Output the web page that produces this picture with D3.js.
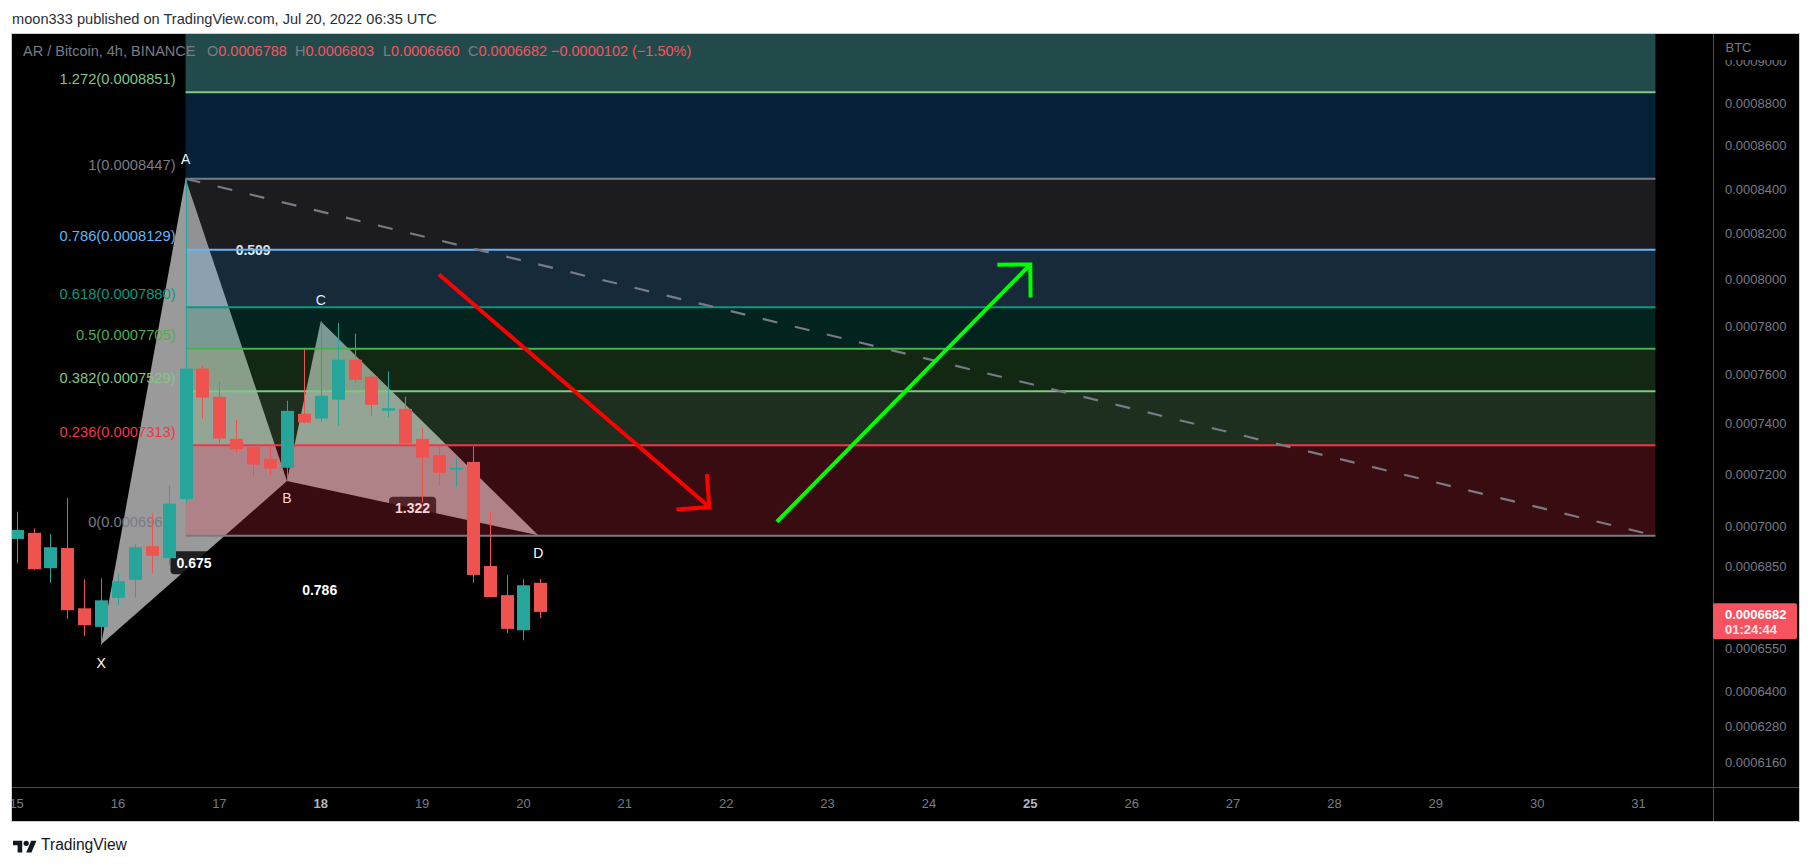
<!DOCTYPE html>
<html><head><meta charset="utf-8"><title>AR / Bitcoin 4h</title>
<script src="https://cdn.jsdelivr.net/npm/d3@7/dist/d3.min.js"></script>
<style>
html,body{margin:0;padding:0;background:#ffffff;overflow:hidden}
svg{display:block}
text{font-family:"Liberation Sans",Arial,Helvetica,sans-serif}
</style></head><body>
<svg id="c" width="1813" height="866"></svg>
<script>
// ---------------- DATA ----------------
const titleText = 'moon333 published on TradingView.com, Jul 20, 2022 06:35 UTC';
const symbolText = 'AR / Bitcoin, 4h, BINANCE';
const ohlcKeys = ['O', 'H', 'L', 'C'];
const ohlcVals = ['0.0006788', '0.0006803', '0.0006660', '0.0006682'];
const changeText = '\u22120.0000102 (\u22121.50%)';

const candleTimes = [
  '2022-07-15T00:00:00Z','2022-07-15T04:00:00Z','2022-07-15T08:00:00Z','2022-07-15T12:00:00Z','2022-07-15T16:00:00Z','2022-07-15T20:00:00Z',
  '2022-07-16T00:00:00Z','2022-07-16T04:00:00Z','2022-07-16T08:00:00Z','2022-07-16T12:00:00Z','2022-07-16T16:00:00Z','2022-07-16T20:00:00Z',
  '2022-07-17T00:00:00Z','2022-07-17T04:00:00Z','2022-07-17T08:00:00Z','2022-07-17T12:00:00Z','2022-07-17T16:00:00Z','2022-07-17T20:00:00Z',
  '2022-07-18T00:00:00Z','2022-07-18T04:00:00Z','2022-07-18T08:00:00Z','2022-07-18T12:00:00Z','2022-07-18T16:00:00Z','2022-07-18T20:00:00Z',
  '2022-07-19T00:00:00Z','2022-07-19T04:00:00Z','2022-07-19T08:00:00Z','2022-07-19T12:00:00Z','2022-07-19T16:00:00Z','2022-07-19T20:00:00Z',
  '2022-07-20T00:00:00Z','2022-07-20T04:00:00Z'];
const candleOpen  = [0.0006951,0.0006974,0.0006842,0.0006917,0.0006695,0.0006628,
                     0.0006733,0.0006799,0.0006924,0.0006879,0.0007103,0.0007622,
                     0.0007507,0.0007338,0.0007305,0.0007259,0.0007224,0.0007438,
                     0.0007419,0.0007495,0.0007659,0.0007589,0.0007451,0.0007458,
                     0.0007338,0.0007274,0.0007217,0.0007247,0.0006850,0.0006743,
                     0.0006616,0.0006788];
const candleHigh  = [0.0007054,0.0006991,0.0006969,0.0007107,0.0006801,0.0006805,
                     0.0006823,0.0006933,0.0007047,0.0007154,0.0008447,0.0007635,
                     0.0007569,0.0007414,0.0007314,0.0007306,0.0007491,0.0007703,
                     0.0007820,0.0007813,0.0007768,0.0007597,0.0007610,0.0007507,
                     0.0007383,0.0007305,0.0007264,0.0007307,0.0007054,0.0006816,
                     0.0006801,0.0006803];
const candleLow   = [0.0006860,0.0006835,0.0006788,0.0006657,0.0006596,0.0006565,
                     0.0006706,0.0006733,0.0006825,0.0006853,0.0007086,0.0007417,
                     0.0007321,0.0007281,0.0007189,0.0007196,0.0007172,0.0007400,
                     0.0007407,0.0007390,0.0007563,0.0007431,0.0007423,0.0007318,
                     0.0007089,0.0007154,0.0007150,0.0006788,0.0006735,0.0006606,
                     0.0006580,0.0006660];
const candleClose = [0.0006985,0.0006838,0.0006920,0.0006688,0.0006634,0.0006724,
                     0.0006794,0.0006920,0.0006888,0.0007085,0.0007622,0.0007504,
                     0.0007339,0.0007297,0.0007236,0.0007221,0.0007450,0.0007403,
                     0.0007511,0.0007659,0.0007576,0.0007474,0.0007461,0.0007319,
                     0.0007264,0.0007204,0.0007224,0.0006817,0.0006736,0.0006621,
                     0.0006779,0.0006682];

const fibLevels = ['0', '0.236', '0.382', '0.5', '0.618', '0.786', '1', '1.272'];
const fibPrices = [0.0006963, 0.0007313, 0.0007529, 0.0007705, 0.0007880, 0.0008129, 0.0008447, 0.0008851];
const fibTimes  = ['2022-07-16T16:00:00Z', '2022-07-31T04:00:00Z'];

const patternNames  = ['X', 'A', 'B', 'C', 'D'];
const patternTimes  = ['2022-07-15T20:00:00Z','2022-07-16T16:00:00Z','2022-07-17T16:00:00Z','2022-07-18T00:00:00Z','2022-07-20T03:30:00Z'];
const patternPrices = [0.0006565, 0.0008447, 0.0007172, 0.0007820, 0.0006965];
const ratioTexts = ['0.675', '0.509', '1.322', '0.786'];
const ratioPairs = [['X','B'], ['A','C'], ['B','D'], ['X','D']];

const trendTimes  = ['2022-07-16T16:00:00Z', '2022-07-31T04:00:00Z'];
const trendPrices = [0.0008447, 0.0006963];
const redArrowTimes    = ['2022-07-19T04:00:00Z', '2022-07-21T20:00:00Z'];
const redArrowPrices   = [0.0008020, 0.0007072];
const greenArrowTimes  = ['2022-07-22T12:00:00Z', '2022-07-25T00:00:00Z'];
const greenArrowPrices = [0.0007016, 0.0008064];

const priceTicks = [0.0009, 0.00088, 0.00086, 0.00084, 0.00082, 0.0008, 0.00078, 0.00076, 0.00074,
                    0.00072, 0.0007, 0.000685, 0.000655, 0.00064, 0.000628, 0.000616];
const dayTicks = ['2022-07-15','2022-07-16','2022-07-17','2022-07-18','2022-07-19','2022-07-20','2022-07-21','2022-07-22',
                  '2022-07-23','2022-07-24','2022-07-25','2022-07-26','2022-07-27','2022-07-28','2022-07-29','2022-07-30','2022-07-31'];
const dayLabels = ['15','16','17','18','19','20','21','22','23','24','25','26','27','28','29','30','31'];
const boldDays = ['18', '25'];
const lastPrice = 0.0006682;
const countdownText = '01:24:44';
const axisUnit = 'BTC';

// ---------------- SCALES ----------------
const svg = d3.select('#c');
const T = s => new Date(s);
const x = d3.scaleUtc().domain([T('2022-07-16T00:00:00Z'), T('2022-07-31T00:00:00Z')]).range([118, 1638.55]);
const y = d3.scaleLog().domain([0.0006078, 0.0009135]).range([787, 34]);
const P = (t, p) => [x(T(t)), y(p)];

const UP = '#26a69a', DOWN = '#ef5350';

// chart background
svg.append('rect').attr('x', 12).attr('y', 34).attr('width', 1787).attr('height', 787).attr('fill', '#000');
const defs = svg.append('defs');
defs.append('clipPath').attr('id', 'pc').append('rect').attr('x', 12).attr('y', 34).attr('width', 1701).attr('height', 753);
defs.append('clipPath').attr('id', 'tc').append('rect').attr('x', 12).attr('y', 788).attr('width', 1701).attr('height', 33);
defs.append('clipPath').attr('id', 'ac').append('rect').attr('x', 1714).attr('y', 60).attr('width', 85).attr('height', 727);
const g = svg.append('g').attr('clip-path', 'url(#pc)');

// ---------- XABCD pattern (under fib zones) ----------
const pIdx = n => patternNames.indexOf(n);
const pPt = n => P(patternTimes[pIdx(n)], patternPrices[pIdx(n)]);
const tris = [['X','A','B'], ['B','C','D']];
g.selectAll('path.tri').data(tris).join('path').attr('class', 'tri')
  .attr('d', d => 'M' + d.map(n => pPt(n).join(',')).join('L') + 'Z')
  .attr('fill', '#9a9a9a');

ratioTexts.forEach((txt, i) => {
  const a = pPt(ratioPairs[i][0]), b = pPt(ratioPairs[i][1]);
  const cx = (a[0] + b[0]) / 2, cy = (a[1] + b[1]) / 2;
  const lg = g.append('g');
  const r = lg.append('rect').attr('fill', 'rgba(0,0,0,0.8)').attr('rx', 4);
  const t = lg.append('text').attr('x', cx).attr('y', cy + 5).attr('text-anchor', 'middle')
    .attr('font-size', '14px').attr('font-weight', 'bold').attr('fill', '#ffffff').text(txt);
  const w = t.node().getComputedTextLength();
  r.attr('x', cx - w / 2 - 6).attr('y', cy - 11.5).attr('width', w + 12).attr('height', 23);
});

const labelOffset = { X: 18, A: -20, B: 17, C: -21, D: 18 };
patternNames.forEach(n => {
  const p = pPt(n);
  g.append('text').attr('x', p[0]).attr('y', p[1] + labelOffset[n] + 5).attr('text-anchor', 'middle')
    .attr('font-size', '14px').attr('fill', '#ffffff').text(n);
});

// ---------- Fib retracement ----------
const fx0 = x(T(fibTimes[0])), fx1 = x(T(fibTimes[1]));
const fibLineColors = ['#787b86', '#f23645', '#81c784', '#4caf50', '#089981', '#64b5f6', '#787b86', '#81c784'];
const fibZoneColors = [null, '#f23645', '#81c784', '#4caf50', '#089981', '#64b5f6', '#787b86', '#1a8fef'];
g.append('rect').attr('x', fx0).attr('width', fx1 - fx0).attr('y', 34).attr('height', y(fibPrices[7]) - 34).attr('fill', '#234a4b');
for (let i = 1; i < fibPrices.length; i++) {
  const y0 = y(fibPrices[i]), y1 = y(fibPrices[i - 1]);
  g.append('rect').attr('x', fx0).attr('width', fx1 - fx0).attr('y', y0).attr('height', y1 - y0)
    .attr('fill', fibZoneColors[i]).attr('fill-opacity', 0.23);
}
fibPrices.forEach((p, i) => {
  g.append('line').attr('x1', fx0).attr('x2', fx1).attr('y1', y(p)).attr('y2', y(p))
    .attr('stroke', fibLineColors[i]).attr('stroke-width', 2);
  g.append('text').attr('x', fx0 - 10).attr('y', y(p) - 13.5 + 5.2).attr('text-anchor', 'end')
    .attr('font-size', '14.7px').attr('fill', fibLineColors[i])
    .text(fibLevels[i] + '(' + p.toFixed(7) + ')');
});

// ---------- Candles ----------
const candles = candleTimes.map((t, i) => ({ t: T(t), o: candleOpen[i], h: candleHigh[i], l: candleLow[i], c: candleClose[i] }));
const barW = 13;
const cg = g.append('g');
cg.selectAll('line.wick').data(candles).join('line').attr('class', 'wick')
  .attr('x1', d => Math.round(x(d.t)) + 0.5).attr('x2', d => Math.round(x(d.t)) + 0.5)
  .attr('y1', d => y(d.h)).attr('y2', d => y(d.l))
  .attr('stroke', d => d.c >= d.o ? UP : DOWN).attr('stroke-width', 1);
cg.selectAll('rect.body').data(candles).join('rect').attr('class', 'body')
  .attr('x', d => Math.round(x(d.t)) + 0.5 - barW / 2).attr('width', barW)
  .attr('y', d => Math.min(y(d.o), y(d.c)))
  .attr('height', d => Math.max(1.5, Math.abs(y(d.o) - y(d.c))))
  .attr('fill', d => d.c >= d.o ? UP : DOWN);

// ---------- Trend line (dashed) ----------
const tA = P(trendTimes[0], trendPrices[0]), tB = P(trendTimes[1], trendPrices[1]);
g.append('line').attr('x1', tA[0]).attr('y1', tA[1]).attr('x2', tB[0]).attr('y2', tB[1])
  .attr('stroke', '#787b86').attr('stroke-width', 2.2).attr('stroke-dasharray', '15,18');

// ---------- Arrows ----------
function arrow(times, prices, color) {
  const [x1, y1] = P(times[0], prices[0]), [x2, y2] = P(times[1], prices[1]);
  const a = Math.atan2(y1 - y2, x1 - x2), L = 33, s = Math.PI / 4;
  const l1 = [x2 + L * Math.cos(a + s), y2 + L * Math.sin(a + s)];
  const l2 = [x2 + L * Math.cos(a - s), y2 + L * Math.sin(a - s)];
  g.append('path').attr('d', `M${x1},${y1}L${x2},${y2}`).attr('stroke', color).attr('stroke-width', 4).attr('fill', 'none');
  g.append('path').attr('d', `M${l1[0]},${l1[1]}L${x2},${y2}L${l2[0]},${l2[1]}`)
    .attr('stroke', color).attr('stroke-width', 4).attr('fill', 'none').attr('stroke-linejoin', 'miter');
}
arrow(redArrowTimes, redArrowPrices, '#ff0000');
arrow(greenArrowTimes, greenArrowPrices, '#00ff00');

// ---------- Axes ----------
svg.append('line').attr('x1', 1713.5).attr('x2', 1713.5).attr('y1', 34).attr('y2', 821).attr('stroke', '#4a4d57');
svg.append('line').attr('x1', 12).attr('x2', 1799).attr('y1', 787.5).attr('y2', 787.5).attr('stroke', '#4a4d57');

// price axis labels (the topmost one is partly hidden under the unit label, as in the original)
const pa = svg.append('g').attr('clip-path', 'url(#ac)').attr('font-size', '13px').attr('fill', '#787b86');
pa.selectAll('text').data(priceTicks).join('text')
  .attr('x', 1725).attr('y', d => y(d) + 4.6).text(d => d.toFixed(7));
svg.append('text').attr('x', 1725.5).attr('y', 52).attr('font-size', '13px').attr('fill', '#787b86').text(axisUnit);

// last price label
const yv = y(lastPrice);
svg.append('rect').attr('x', 1713).attr('y', yv - 8.6).attr('width', 84).attr('height', 36).attr('rx', 2).attr('fill', '#f7525f');
svg.append('text').attr('x', 1725).attr('y', yv + 7).attr('font-size', '13px').attr('font-weight', 'bold').attr('fill', '#ffffff').text(lastPrice.toFixed(7));
svg.append('text').attr('x', 1725).attr('y', yv + 22).attr('font-size', '13px').attr('font-weight', 'bold').attr('fill', '#ffe6e8').text(countdownText);

// time axis
const ta = svg.append('g').attr('clip-path', 'url(#tc)').attr('font-size', '13px');
ta.selectAll('text').data(dayTicks).join('text')
  .attr('x', d => x(new Date(d + 'T00:00:00Z'))).attr('y', 808).attr('text-anchor', 'middle')
  .attr('fill', (d, i) => boldDays.includes(dayLabels[i]) ? '#b2b5be' : '#787b86')
  .attr('font-weight', (d, i) => boldDays.includes(dayLabels[i]) ? 'bold' : 'normal')
  .text((d, i) => dayLabels[i]);

// ---------- Legend ----------
const lgd = svg.append('g').attr('font-size', '14.5px');
lgd.append('text').attr('x', 23).attr('y', 56).attr('fill', '#787b86').text(symbolText);
const ohlcX = [207, 295, 383, 468];
ohlcKeys.forEach((k, i) => {
  const t = lgd.append('text').attr('x', ohlcX[i]).attr('y', 56);
  t.append('tspan').attr('fill', '#787b86').text(k);
  t.append('tspan').attr('fill', '#f7525f').text(ohlcVals[i]);
});
lgd.append('text').attr('x', 551).attr('y', 56).attr('fill', '#f7525f').text(changeText);

// ---------- Title & logo ----------
svg.append('text').attr('x', 12).attr('y', 24).attr('font-size', '14.6px').attr('fill', '#2a2e39').text(titleText);
const logo = svg.append('g').attr('transform', 'translate(13,838) scale(0.66)').attr('fill', '#131722');
logo.append('path').attr('d', 'M14 22H7V11H0V4h14v18zM28 22h-8l7.5-18h8L28 22z');
logo.append('circle').attr('cx', 20).attr('cy', 8).attr('r', 4);
svg.append('text').attr('x', 41).attr('y', 850).attr('font-size', '15.6px').attr('fill', '#131722').text('TradingView');

// frame border
svg.append('rect').attr('x', 11.5).attr('y', 33.5).attr('width', 1788).attr('height', 788)
  .attr('fill', 'none').attr('stroke', '#c9ccd3');
</script>
</body></html>
